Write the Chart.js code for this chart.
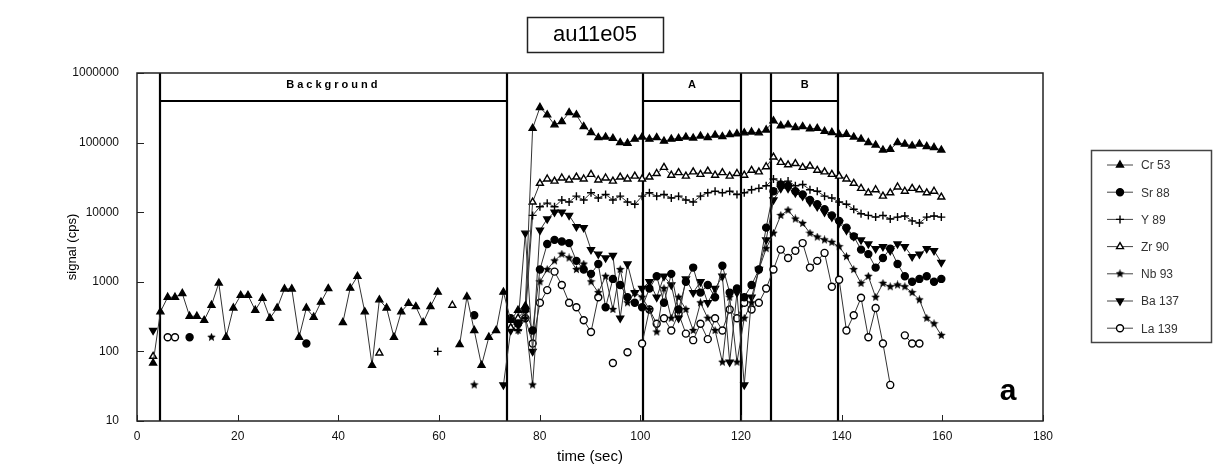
<!DOCTYPE html>
<html>
<head>
<meta charset="utf-8">
<script src="https://cdn.jsdelivr.net/npm/chart.js@4/dist/chart.umd.min.js"></script>
<style>
  html, body { margin: 0; padding: 0; background: #fff; }
  #wrap { width: 1213px; height: 468px; }
</style>
</head>
<body>
<div id="wrap"><canvas id="chart" width="1213" height="468"></canvas></div>
<script>
// ==================== Data ====================

const times = [
  3.2, 4.65, 6.1, 7.55, 9.0, 10.45, 11.9, 13.35, 14.8, 16.25,
  17.7, 19.15, 20.6, 22.05, 23.5, 24.95, 26.4, 27.85, 29.3, 30.75,
  32.2, 33.65, 35.1, 36.55, 38.0, 39.45, 40.9, 42.35, 43.8, 45.25,
  46.7, 48.15, 49.6, 51.05, 52.5, 53.95, 55.4, 56.85, 58.3, 59.75,
  61.2, 62.65, 64.1, 65.55, 67.0, 68.45, 69.9, 71.35, 72.8, 74.25,
  75.7, 77.15, 78.6, 80.05, 81.5, 82.95, 84.4, 85.85, 87.3, 88.75,
  90.2, 91.65, 93.1, 94.55, 96.0, 97.45, 98.9, 100.35, 101.8, 103.25,
  104.7, 106.15, 107.6, 109.05, 110.5, 111.95, 113.4, 114.85, 116.3, 117.75,
  119.2, 120.65, 122.1, 123.55, 125.0, 126.45, 127.9, 129.35, 130.8, 132.25,
  133.7, 135.15, 136.6, 138.05, 139.5, 140.95, 142.4, 143.85, 145.3, 146.75,
  148.2, 149.65, 151.1, 152.55, 154.0, 155.45, 156.9, 158.35, 159.8
];

const cr53 = [
  68, 370, 600, 600, 680, 320, 320, 280, 460, 960,
  160, 420, 640, 640, 390, 580, 300, 420, 790, 790,
  160, 420, 310, 510, 800, null, 260, 810, 1200, 370,
  63, 550, 420, 160, 370, 490, 440, 260, 440, 710,
  null, null, 125, 610, 200, 63, 160, 200, 710, 280,
  390, 450, 160000, 320000, 250000, 180000, 200000, 270000, 250000, 170000,
  140000, 118000, 120000, 115000, 100000, 98000, 112000, 120000, 112000, 118000,
  105000, 112000, 115000, 120000, 116000, 124000, 118000, 128000, 122000, 130000,
  134000, 138000, 142000, 138000, 152000, 205000, 175000, 180000, 165000, 170000,
  158000, 160000, 145000, 140000, 130000, 132000, 120000, 112000, 100000, 92000,
  78000, 80000, 100000, 95000, 90000, 95000, 88000, 85000, 78000
];

const sr88 = [
  null, null, null, null, null, 160, null, null, null, null,
  null, null, null, null, null, null, null, null, null, null,
  null, 130, null, null, null, null, null, null, null, null,
  null, null, null, null, null, null, null, null, null, null,
  null, null, null, null, 330, null, null, null, null, 300,
  250, 400, 200, 1500, 3500, 4000, 3800, 3600, 2000, 1500,
  1300, 1800, 430, 1100, 900, 600, 500, 430, 800, 1200,
  500, 1300, 400, 1000, 1600, 700, 900, 600, 1700, 700,
  800, 600, 900, 1500, 6000, 20000, 25000, 24000, 20000, 18000,
  15000, 13000, 11000, 9000, 7500, 6000, 4500, 2900, 2500, 1600,
  2200, 3000, 1800, 1200, 1000, 1100, 1200, 1000, 1100
];

const y89 = [
  null, null, null, null, null, null, null, null, null, null,
  null, null, null, null, null, null, null, null, null, null,
  null, null, null, null, null, null, null, null, null, null,
  null, null, null, null, null, null, null, null, null, 100,
  null, null, null, null, null, null, null, null, null, null,
  200, 300, 9000, 12000, 13500, 12000, 15000, 14000, 17000, 15000,
  19000, 16000, 18000, 15000, 17000, 14000, 13000, 17000, 19000, 17000,
  18000, 16000, 17000, 15000, 14000, 17000, 19000, 20000, 19000, 20000,
  18000, 19000, 21000, 22000, 24000, 30000, 27000, 28000, 24000, 25000,
  21000, 20000, 17000, 16000, 14000, 13000, 11000, 9500, 9000, 8500,
  9000, 8000, 8500, 8800, 7500, 7000, 8500, 8800, 8500
];

const zr90 = [
  85, null, null, null, null, null, null, null, null, null,
  null, null, null, null, null, null, null, null, null, null,
  null, null, null, null, null, null, null, null, null, null,
  null, 95, null, null, null, null, null, null, null, null,
  null, 460, null, null, null, null, null, null, null, 220,
  300, 400, 14000, 26000, 30000, 28000, 31000, 29000, 32000, 30000,
  35000, 29000, 31000, 28000, 32000, 30000, 33000, 30000, 32000, 36000,
  44000, 34000, 37000, 33000, 38000, 35000, 39000, 34000, 37000, 33000,
  36000, 34000, 40000, 38000, 45000, 62000, 52000, 48000, 50000, 44000,
  46000, 40000, 38000, 35000, 33000, 30000, 26000, 22000, 19000, 21000,
  17000, 19000, 23000, 20000, 22000, 21000, 19000, 20000, 16500
];

const nb93 = [
  null, null, null, null, null, null, null, null, 160, null,
  null, null, null, null, null, null, null, null, null, null,
  null, null, null, null, null, null, null, null, null, null,
  null, null, null, null, null, null, null, null, null, null,
  null, null, null, null, 33, null, null, null, null, null,
  200, 300, 33, 1000, 1500, 2000, 2500, 2200, 1500, 1800,
  1000, 700, 1200, 400, 1500, 500, 700, 600, 400, 190,
  800, 300, 600, 400, 200, 500, 300, 200, 70, 600,
  70, 300, 500, 1500, 3000, 5000, 9000, 10700, 8000, 6900,
  5000, 4400, 4000, 3700, 3200, 2300, 1500, 950, 1200, 600,
  950, 850, 900, 850, 700, 550, 300, 250, 170
];

const ba137 = [
  200, null, null, null, null, null, null, null, null, null,
  null, null, null, null, null, null, null, null, null, null,
  null, null, null, null, null, null, null, null, null, null,
  null, null, null, null, null, null, null, null, null, null,
  null, null, null, null, null, null, null, null, 33, 200,
  250, 5000, 100, 5500, 8000, 10000, 10000, 9000, 6200, 6000,
  2900, 2500, 2200, 2400, 300, 1800, 700, 800, 1000, 600,
  1200, 900, 300, 1100, 700, 1000, 500, 800, 1200, 70,
  700, 33, 600, 1500, 4000, 15000, 22000, 22000, 19000, 17000,
  14000, 12000, 10000, 8500, 7000, 5500, 4500, 4000, 3500, 3000,
  3200, 2800, 3500, 3200, 2300, 2500, 3000, 2800, 1900
];

const la139 = [
  null, null, 160, 160, null, null, null, null, null, null,
  null, null, null, null, null, null, null, null, null, null,
  null, null, null, null, null, null, null, null, null, null,
  null, null, null, null, null, null, null, null, null, null,
  null, null, null, null, null, null, null, null, null, null,
  null, 300, 130, 500, 760, 1400, 900, 500, 430, 280,
  190, 600, null, 68, null, 97, null, 130, 400, 250,
  300, 200, 350, 180, 145, 250, 150, 300, 200, 400,
  300, 500, 400, 500, 800, 1500, 2900, 2200, 2800, 3600,
  1600, 2000, 2600, 850, 1070, 200, 330, 590, 160, 420,
  130, 33, null, 170, 130, 130, null, null, null
];

const seriesLabels = ['Cr 53', 'Sr 88', 'Y 89', 'Zr 90', 'Nb 93', 'Ba 137', 'La 139'];

// interval markers drawn over the plot (time in sec)
const boundaryTimes = [4.5, 73.5, 100.5, 120, 126, 139.3];
const regionStarts = [4.5, 100.5, 126];
const regionEnds = [73.5, 120, 139.3];
const regionLabels = ['Background', 'A', 'B'];
const regionLineValue = 400000;
const regionLabelValue = 680000;

const xTickValues = [0, 20, 40, 60, 80, 100, 120, 140, 160, 180];
const yTickValues = [10, 100, 1000, 10000, 100000, 1000000];

// ==================== Markers ====================

function makeStar(size) {
  const c = document.createElement('canvas');
  c.width = size; c.height = size;
  const g = c.getContext('2d');
  const cx = size / 2, cy = size / 2, outer = size / 2, inner = size / 4.4;
  g.beginPath();
  for (let i = 0; i < 10; i++) {
    const r = i % 2 === 0 ? outer : inner;
    const a = -Math.PI / 2 + i * Math.PI / 5;
    g.lineTo(cx + r * Math.cos(a), cy + r * Math.sin(a));
  }
  g.closePath();
  g.fillStyle = '#000';
  g.fill();
  return c;
}

const starMarker = makeStar(9);

const markerStyles = [
  { pointStyle: 'triangle', radius: 4, rotation: 0, fill: '#000' },
  { pointStyle: 'circle', radius: 3.5, rotation: 0, fill: '#000' },
  { pointStyle: 'cross', radius: 4, rotation: 0, fill: '#000' },
  { pointStyle: 'triangle', radius: 4, rotation: 0, fill: '#fff' },
  { pointStyle: starMarker, radius: 4.5, rotation: 0, fill: '#000' },
  { pointStyle: 'triangle', radius: 4, rotation: 180, fill: '#000' },
  { pointStyle: 'circle', radius: 3.5, rotation: 0, fill: '#fff' }
];

const seriesValues = [cr53, sr88, y89, zr90, nb93, ba137, la139];

const toPoints = vals => times.map((t, i) => ({ x: t, y: vals[i] }));

const datasets = seriesValues.map((vals, i) => ({
  label: seriesLabels[i],
  data: toPoints(vals),
  borderColor: '#333',
  borderWidth: 1,
  pointStyle: markerStyles[i].pointStyle,
  pointRotation: markerStyles[i].rotation,
  pointRadius: markerStyles[i].radius,
  pointBackgroundColor: markerStyles[i].fill,
  pointBorderColor: '#000',
  pointBorderWidth: 1.4,
  spanGaps: false,
  tension: 0
}));

// ==================== Plugins ====================

const FONT = '"Liberation Sans", Arial, sans-serif';

const overlayPlugin = {
  id: 'overlay',
  beforeDatasetsDraw(chart) {
    const { ctx, chartArea, scales: { x, y } } = chart;
    ctx.save();
    ctx.strokeStyle = '#000';
    ctx.lineWidth = 2.2;
    boundaryTimes.forEach(t => {
      const px = Math.round(x.getPixelForValue(t));
      ctx.beginPath();
      ctx.moveTo(px, chartArea.top);
      ctx.lineTo(px, chartArea.bottom);
      ctx.stroke();
    });
    const hy = Math.round(y.getPixelForValue(regionLineValue));
    const ly = y.getPixelForValue(regionLabelValue);
    regionStarts.forEach((s, i) => {
      const x0 = x.getPixelForValue(s), x1 = x.getPixelForValue(regionEnds[i]);
      ctx.beginPath();
      ctx.moveTo(x0, hy);
      ctx.lineTo(x1, hy);
      ctx.stroke();
      ctx.fillStyle = '#000';
      ctx.font = 'bold 11px ' + FONT;
      ctx.textAlign = 'center';
      ctx.textBaseline = 'middle';
      ctx.letterSpacing = regionLabels[i].length > 1 ? '3px' : '0px';
      ctx.fillText(regionLabels[i], (x0 + x1) / 2, ly);
    });
    ctx.restore();
  },
  afterDraw(chart) {
    const { ctx, chartArea, scales: { x, y } } = chart;
    ctx.save();
    // frame
    ctx.strokeStyle = '#222';
    ctx.lineWidth = 1.5;
    ctx.strokeRect(chartArea.left, chartArea.top, chartArea.right - chartArea.left, chartArea.bottom - chartArea.top);
    // inward tick marks
    ctx.lineWidth = 1;
    xTickValues.forEach(v => {
      const px = Math.round(x.getPixelForValue(v)) + 0.5;
      ctx.beginPath();
      ctx.moveTo(px, chartArea.bottom);
      ctx.lineTo(px, chartArea.bottom - 6);
      ctx.stroke();
    });
    yTickValues.forEach(v => {
      const py = Math.round(y.getPixelForValue(v)) + 0.5;
      ctx.beginPath();
      ctx.moveTo(chartArea.left, py);
      ctx.lineTo(chartArea.left + 7, py);
      ctx.stroke();
    });

    // title box
    ctx.fillStyle = '#000';
    ctx.font = '22px ' + FONT;
    ctx.textAlign = 'center';
    ctx.textBaseline = 'middle';
    ctx.fillText('au11e05', 595, 35);
    ctx.lineWidth = 1.5;
    ctx.strokeRect(527.5, 17.5, 136, 35);

    // axis titles
    ctx.font = '15px ' + FONT;
    ctx.fillText('time (sec)', 590, 457);
    ctx.save();
    ctx.translate(72, 247);
    ctx.rotate(-Math.PI / 2);
    ctx.font = '13px ' + FONT;
    ctx.fillText('signal (cps)', 0, 0);
    ctx.restore();

    // panel letter
    ctx.font = 'bold 30px ' + FONT;
    ctx.fillText('a', 1008, 392);

    // legend
    ctx.lineWidth = 1.5;
    ctx.strokeStyle = '#444';
    ctx.strokeRect(1091.5, 150.5, 120, 192);
    seriesLabels.forEach((label, i) => {
      const ey = 165 + i * 27.2;
      ctx.strokeStyle = '#444';
      ctx.lineWidth = 1;
      ctx.beginPath();
      ctx.moveTo(1107, ey);
      ctx.lineTo(1133, ey);
      ctx.stroke();
      const m = markerStyles[i];
      ctx.fillStyle = m.fill;
      ctx.strokeStyle = '#000';
      ctx.lineWidth = 1.4;
      Chart.helpers.drawPoint(ctx, { pointStyle: m.pointStyle, radius: m.radius, rotation: m.rotation, borderWidth: 1.4 }, 1120, ey);
      ctx.fillStyle = '#333';
      ctx.font = '12px ' + FONT;
      ctx.textAlign = 'left';
      ctx.fillText(label, 1141, ey + 1);
    });
    ctx.restore();
  }
};

// ==================== Chart ====================

new Chart(document.getElementById('chart'), {
  type: 'line',
  data: { datasets },
  options: {
    responsive: false,
    animation: false,
    devicePixelRatio: 1,
    layout: { padding: { top: 73, right: 170, left: 0, bottom: 0 } },
    plugins: {
      legend: { display: false },
      tooltip: { enabled: false }
    },
    scales: {
      x: {
        type: 'linear',
        min: 0,
        max: 180,
        grid: { display: false, drawTicks: false },
        border: { display: false },
        ticks: {
          stepSize: 20,
          color: '#111',
          padding: 8,
          font: { family: FONT, size: 12 }
        },
        afterFit(scale) { scale.height = 47; }
      },
      y: {
        type: 'logarithmic',
        min: 10,
        max: 1000000,
        grid: { display: false, drawTicks: false },
        border: { display: false },
        ticks: {
          autoSkip: false,
          color: '#111',
          padding: 18,
          font: { family: FONT, size: 12 },
          callback: v => {
            const l = Math.log10(v);
            return Math.abs(l - Math.round(l)) < 1e-9 ? String(Math.round(v)) : null;
          }
        },
        afterFit(scale) { scale.width = 137; }
      }
    }
  },
  plugins: [overlayPlugin]
});
</script>
</body>
</html>
